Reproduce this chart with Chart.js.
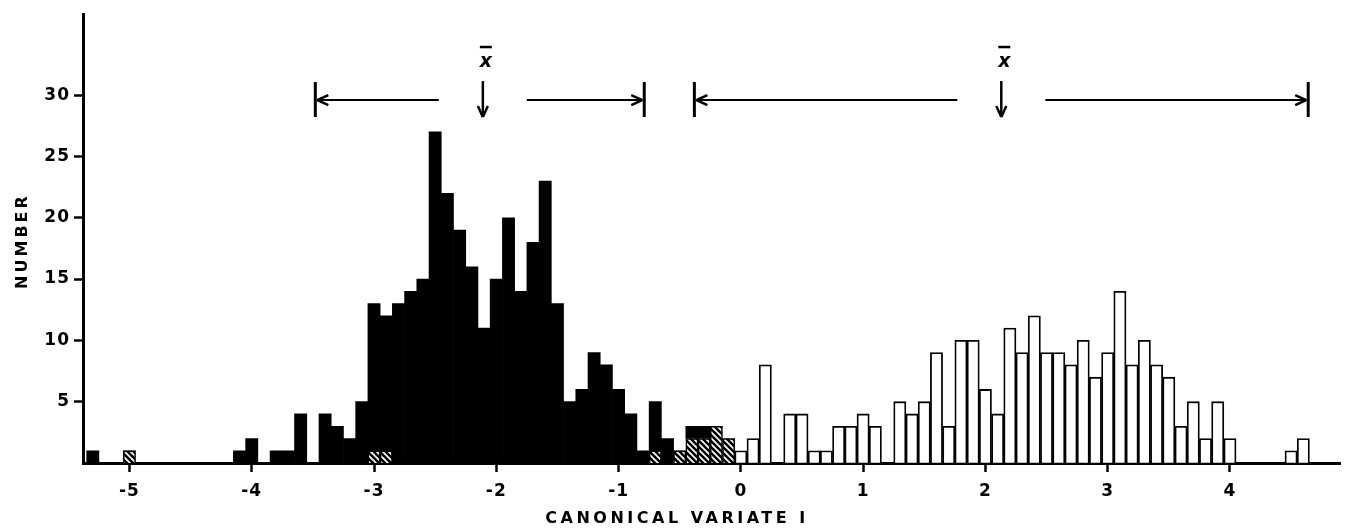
<!DOCTYPE html>
<html>
<head>
<meta charset="utf-8">
<script src="https://cdn.jsdelivr.net/npm/chart.js@4.4.1/dist/chart.umd.min.js"></script>
<style>
  html, body { margin: 0; padding: 0; background: #fff; }
  #wrap { width: 1354px; height: 529px; }
</style>
</head>
<body>
<div id="wrap"><canvas id="chart" width="1354" height="529"></canvas></div>
<script>
/* =========================
   DATA
========================= */
// bins are 0.1 wide, first bin centred on -5.3 (in tenths: -53)
const firstBinTenths = -53;

// group 1 (solid black)
const blackCounts = [
  1, 0, 0, 0, 0, 0, 0, 0, 0, 0,
  0, 0, 1, 2, 0, 1, 1, 4, 0, 4,
  3, 2, 5, 12, 11, 13, 14, 15, 27, 22,
  19, 16, 11, 15, 20, 14, 18, 23, 13, 5,
  6, 9, 8, 6, 4, 1, 4, 2, 0, 1,
  1, 0, 0, 0, 0, 0, 0, 0, 0, 0,
  0, 0, 0, 0, 0, 0, 0, 0, 0, 0,
  0, 0, 0, 0, 0, 0, 0, 0, 0, 0,
  0, 0, 0, 0, 0, 0, 0, 0, 0, 0,
  0, 0, 0, 0, 0, 0, 0, 0, 0, 0
];

// intermediate (hatched)
const hatchedCounts = [
  0, 0, 0, 1, 0, 0, 0, 0, 0, 0,
  0, 0, 0, 0, 0, 0, 0, 0, 0, 0,
  0, 0, 0, 1, 1, 0, 0, 0, 0, 0,
  0, 0, 0, 0, 0, 0, 0, 0, 0, 0,
  0, 0, 0, 0, 0, 0, 1, 0, 1, 2,
  2, 3, 2, 0, 0, 0, 0, 0, 0, 0,
  0, 0, 0, 0, 0, 0, 0, 0, 0, 0,
  0, 0, 0, 0, 0, 0, 0, 0, 0, 0,
  0, 0, 0, 0, 0, 0, 0, 0, 0, 0,
  0, 0, 0, 0, 0, 0, 0, 0, 0, 0
];

// group 2 (open bars)
const whiteCounts = [
  0, 0, 0, 0, 0, 0, 0, 0, 0, 0,
  0, 0, 0, 0, 0, 0, 0, 0, 0, 0,
  0, 0, 0, 0, 0, 0, 0, 0, 0, 0,
  0, 0, 0, 0, 0, 0, 0, 0, 0, 0,
  0, 0, 0, 0, 0, 0, 0, 0, 0, 0,
  0, 0, 0, 1, 2, 8, 0, 4, 4, 1,
  1, 3, 3, 4, 3, 0, 5, 4, 5, 9,
  3, 10, 10, 6, 4, 11, 9, 12, 9, 9,
  8, 10, 7, 9, 14, 8, 10, 8, 7, 3,
  5, 2, 5, 2, 0, 0, 0, 0, 1, 2
];

const xTicks = [-5, -4, -3, -2, -1, 0, 1, 2, 3, 4];
const yTicks = [5, 10, 15, 20, 25, 30];

// [lower limit, mean, upper limit] on canonical variate I
const group1Range = [-3.48, -2.11, -0.79];
const group2Range = [-0.38, 2.13, 4.64];
const rangeLevel = 29.6;

const bins = blackCounts.map((_, i) => (firstBinTenths + i) / 10);

function toPoints(counts) {
  return counts.map((n, i) => ({ x: bins[i], y: n }));
}

/* =========================
   HATCH PATTERN
========================= */
function makeHatch() {
  const c = document.createElement("canvas");
  c.width = 6;
  c.height = 6;
  const g = c.getContext("2d");
  g.fillStyle = "#fff";
  g.fillRect(0, 0, 6, 6);
  g.strokeStyle = "#000";
  g.lineWidth = 2.6;
  g.beginPath();
  g.moveTo(-2, -2); g.lineTo(8, 8);
  g.moveTo(-2, 4); g.lineTo(2, 8);
  g.moveTo(4, -2); g.lineTo(8, 2);
  g.stroke();
  return g.createPattern(c, "repeat");
}

const canvas = document.getElementById("chart");
const hatch = makeHatch();
const FONT = '"DejaVu Sans", "Liberation Sans", sans-serif';

/* =========================
   PLUGINS
========================= */
const paperPlugin = {
  id: "paper",
  beforeDraw(chart) {
    const ctx = chart.ctx;
    ctx.save();
    ctx.fillStyle = "#fff";
    ctx.fillRect(0, 0, chart.width, chart.height);
    ctx.restore();
    ctx.letterSpacing = "1px";
  }
};

function line(ctx, x1, y1, x2, y2) {
  ctx.beginPath();
  ctx.moveTo(x1, y1);
  ctx.lineTo(x2, y2);
  ctx.stroke();
}

const rangePlugin = {
  id: "ranges",
  afterDraw(chart) {
    const { ctx, scales: { x, y } } = chart;
    const py = y.getPixelForValue(rangeLevel);
    const gap = 44;

    ctx.save();
    ctx.strokeStyle = "#000";
    ctx.fillStyle = "#000";
    ctx.lineCap = "butt";

    [group1Range, group2Range].forEach(([lo, mean, hi]) => {
      const pl = x.getPixelForValue(lo);
      const pm = x.getPixelForValue(mean);
      const ph = x.getPixelForValue(hi);

      // end bars
      ctx.lineWidth = 3;
      line(ctx, pl, py - 18, pl, py + 17);
      line(ctx, ph, py - 18, ph, py + 17);

      // horizontal arrows
      ctx.lineWidth = 2;
      line(ctx, pl + 2, py, pm - gap, py);
      line(ctx, pm + gap, py, ph - 2, py);
      ctx.lineWidth = 2.5;
      line(ctx, pl + 13, py - 5, pl + 2, py);
      line(ctx, pl + 2, py, pl + 13, py + 5);
      line(ctx, ph - 13, py - 5, ph - 2, py);
      line(ctx, ph - 2, py, ph - 13, py + 5);

      // mean arrow
      ctx.lineWidth = 2.5;
      line(ctx, pm, py - 19, pm, py + 17);
      line(ctx, pm - 5, py + 6, pm, py + 17);
      line(ctx, pm + 5, py + 6, pm, py + 17);

      // x-bar
      ctx.letterSpacing = "0px";
      ctx.font = "italic bold 19px " + FONT;
      ctx.textAlign = "center";
      ctx.textBaseline = "alphabetic";
      ctx.fillText("x", pm + 3, py - 33);
      ctx.lineWidth = 2.5;
      line(ctx, pm - 3, py - 53, pm + 9, py - 53);
    });

    // axis titles
    ctx.font = "bold 16px " + FONT;
    ctx.letterSpacing = "3.5px";
    ctx.textAlign = "center";
    ctx.textBaseline = "middle";
    ctx.fillText("CANONICAL VARIATE I", 677, 519);

    ctx.save();
    ctx.translate(23, 241);
    ctx.rotate(-Math.PI / 2);
    ctx.letterSpacing = "3px";
    ctx.fillText("NUMBER", 0, 0);
    ctx.restore();

    ctx.restore();
  }
};

/* =========================
   CHART
========================= */
const axisGrid = {
  offset: false,
  drawOnChartArea: false,
  drawTicks: true,
  tickLength: 9,
  tickWidth: 2.5,
  tickColor: "#000"
};
const axisBorder = { display: true, width: 3, color: "#000" };

new Chart(canvas, {
  type: "bar",
  data: {
    datasets: [
      {
        label: "Intermediate",
        data: toPoints(hatchedCounts),
        backgroundColor: hatch,
        borderColor: "#000",
        borderWidth: 1.5
      },
      {
        label: "Group 1",
        data: toPoints(blackCounts),
        backgroundColor: "#000",
        borderWidth: 0
      },
      {
        label: "Group 2",
        data: toPoints(whiteCounts),
        backgroundColor: "#fff",
        borderColor: "#000",
        borderWidth: 1.8
      }
    ]
  },
  options: {
    responsive: false,
    animation: false,
    devicePixelRatio: 1,
    datasets: {
      bar: { barPercentage: 1, categoryPercentage: 1 }
    },
    layout: { padding: { top: 12, right: 14, left: 0, bottom: 0 } },
    plugins: {
      legend: { display: false },
      tooltip: { enabled: false }
    },
    scales: {
      x: {
        type: "linear",
        min: -5.38,
        max: 4.9,
        offset: false,
        stacked: true,
        grid: axisGrid,
        border: axisBorder,
        afterBuildTicks: scale => {
          scale.ticks = xTicks.map(v => ({ value: v }));
        },
        afterFit: scale => { scale.height = 66; },
        ticks: {
          color: "#000",
          padding: 9,
          maxRotation: 0,
          autoSkip: false,
          font: { family: FONT, size: 17, weight: "bold" },
          callback: v => String(v)
        }
      },
      y: {
        min: 0,
        max: 36.6,
        stacked: true,
        grid: axisGrid,
        border: axisBorder,
        afterBuildTicks: scale => {
          scale.ticks = yTicks.map(v => ({ value: v }));
        },
        afterFit: scale => { scale.width = 83; },
        ticks: {
          color: "#000",
          padding: 4,
          font: { family: FONT, size: 17, weight: "bold" },
          callback: v => String(v)
        }
      }
    }
  },
  plugins: [paperPlugin, rangePlugin]
});
</script>
</body>
</html>
